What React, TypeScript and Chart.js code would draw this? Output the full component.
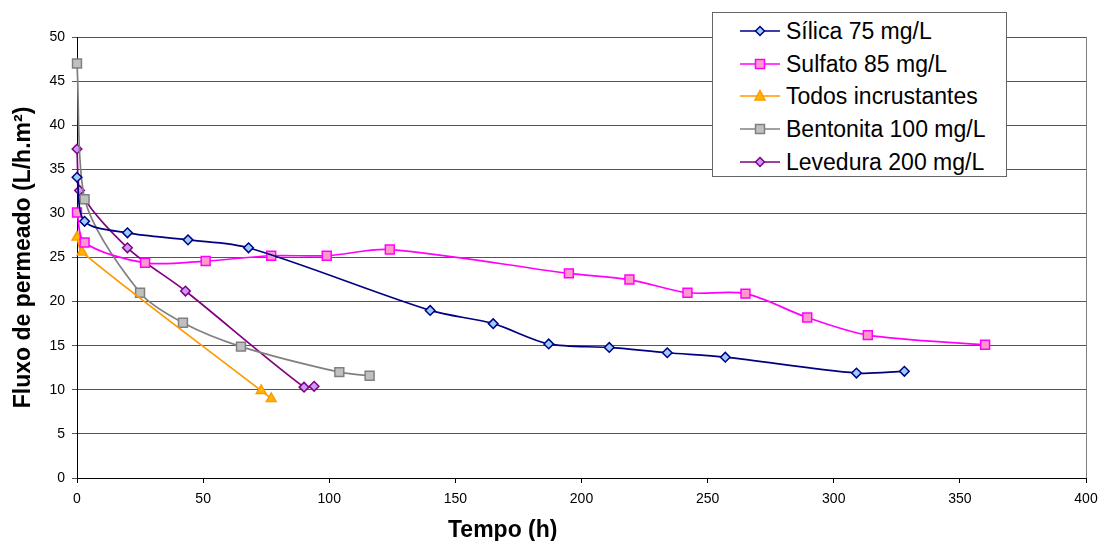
import React, { useEffect, useRef } from "react";
import { Chart, registerables } from "chart.js";

Chart.register(...registerables);

const silicaX = [0, 3, 20, 44, 68, 140, 165, 187, 211, 234, 257, 309, 328];
const silicaY = [34.1, 29.1, 27.8, 27.0, 26.1, 19.0, 17.5, 15.2, 14.8, 14.2, 13.7, 11.9, 12.1];

const sulfatoX = [0, 3, 27, 51, 77, 99, 124, 195, 219, 242, 265, 289.5, 313.5, 360];
const sulfatoY = [30.1, 26.7, 24.4, 24.6, 25.2, 25.2, 25.9, 23.2, 22.5, 21.0, 20.9, 18.2, 16.2, 15.1];

const todosX = [0, 2, 73, 77];
const todosY = [27.3, 25.6, 9.9, 9.0];

const bentonitaX = [0, 3, 25, 42, 65, 104, 116];
const bentonitaY = [47.0, 31.6, 21.0, 17.6, 14.9, 12.0, 11.6];

const leveduraX = [0, 1, 20, 43, 90, 94];
const levaduraY = [37.3, 32.6, 26.1, 21.2, 10.3, 10.4];

const seriesNames = [
  "Sílica 75 mg/L",
  "Sulfato 85 mg/L",
  "Todos incrustantes",
  "Bentonita 100 mg/L",
  "Levedura 200 mg/L",
];

const xTitle = "Tempo (h)";
const yTitle = "Fluxo de permeado (L/h.m²)";

const styles = [
  { line: "#000080", fill: "#99CCFF", marker: "rectRot", r: 4.8 },
  { line: "#FF00FF", fill: "#FF99CC", marker: "rect", r: 6.3 },
  { line: "#FF9900", fill: "#FFB800", marker: "triangle", r: 5.6 },
  { line: "#808080", fill: "#C0C0C0", marker: "rect", r: 6.3 },
  { line: "#800080", fill: "#CC99FF", marker: "rectRot", r: 4.8 },
];

const FONT = "Arial, 'Liberation Sans', sans-serif";

function zip(xs: number[], ys: number[]) {
  return xs.map((x, i) => ({ x, y: ys[i] }));
}

function MarkerIcon({ idx }: { idx: number }) {
  const s = styles[idx];
  let shape: React.ReactNode = null;
  const cx = 20, cy = 9;
  if (s.marker === "rectRot") {
    shape = <polygon points={`${cx},${cy - 4.5} ${cx + 4.5},${cy} ${cx},${cy + 4.5} ${cx - 4.5},${cy}`} fill={s.fill} stroke={s.line} strokeWidth={1.5} />;
  } else if (s.marker === "rect") {
    shape = <rect x={cx - 4.5} y={cy - 4.5} width={9} height={9} fill={s.fill} stroke={s.line} strokeWidth={1.5} />;
  } else {
    shape = <polygon points={`${cx},${cy - 5.5} ${cx + 5},${cy + 4} ${cx - 5},${cy + 4}`} fill={s.fill} stroke={s.line} strokeWidth={1.5} />;
  }
  return (
    <svg width={40} height={18} style={{ display: "block" }}>
      <line x1={0} y1={cy} x2={40} y2={cy} stroke={s.line} strokeWidth={1.6} />
      {shape}
    </svg>
  );
}

export default function App() {
  const ref = useRef<HTMLCanvasElement | null>(null);

  useEffect(() => {
    if (!ref.current) return;
    const dataPairs = [
      zip(silicaX, silicaY),
      zip(sulfatoX, sulfatoY),
      zip(todosX, todosY),
      zip(bentonitaX, bentonitaY),
      zip(leveduraX, levaduraY),
    ];
    const borderPlugin = {
      id: "plotBorder",
      afterDraw(chart: any) {
        const { ctx, chartArea } = chart;
        ctx.save();
        ctx.strokeStyle = "#808080";
        ctx.lineWidth = 1;
        ctx.beginPath();
        ctx.moveTo(Math.round(chartArea.right) + 0.5, chartArea.top);
        ctx.lineTo(Math.round(chartArea.right) + 0.5, chartArea.bottom);
        ctx.stroke();
        ctx.restore();
      },
    };
    const chart = new Chart(ref.current, {
      type: "line",
      data: {
        datasets: dataPairs.map((d, i) => ({
          label: seriesNames[i],
          data: d,
          borderColor: styles[i].line,
          backgroundColor: styles[i].fill,
          pointBackgroundColor: styles[i].fill,
          pointBorderColor: styles[i].line,
          pointBorderWidth: 1.5,
          pointStyle: styles[i].marker as any,
          pointRadius: styles[i].r,
          borderWidth: 1.7,
          tension: 0.3,
          clip: false as any,
          fill: false,
        })),
      },
      options: {
        animation: false,
        responsive: false,
        maintainAspectRatio: false,
        layout: { padding: { top: 37, right: 13, left: 0, bottom: 0 } },
        plugins: {
          legend: { display: false },
          tooltip: { enabled: false },
        },
        scales: {
          x: {
            type: "linear",
            min: 0,
            max: 400,
            ticks: {
              stepSize: 50,
              color: "#000",
              font: { family: FONT, size: 14 },
              padding: 8,
            },
            grid: { display: true, drawOnChartArea: false, drawTicks: true, tickLength: 5, color: "#000" },
            border: { display: true, color: "#000", width: 1 },
            title: { display: false, text: xTitle },
            afterFit(scale: any) {
              scale.height = 63;
              scale.paddingLeft = 0;
              scale.paddingRight = 0;
            },
          },
          y: {
            type: "linear",
            min: 0,
            max: 50,
            ticks: {
              stepSize: 5,
              color: "#000",
              font: { family: FONT, size: 14 },
              padding: 7,
            },
            grid: { color: "#555", tickLength: 5, drawTicks: true },
            border: { display: true, color: "#000", width: 1 },
            title: {
              display: true,
              text: yTitle,
              color: "#000",
              font: { family: FONT, size: 23, weight: "bold" },
              padding: { top: 10, bottom: 0 },
            },
            afterFit(scale: any) {
              scale.width = 77;
              scale.paddingTop = 0;
              scale.paddingBottom = 0;
            },
          },
        },
      },
      plugins: [borderPlugin],
    });
    return () => chart.destroy();
  }, []);

  return (
    <div style={{ position: "absolute", left: 0, top: 0, width: 1099, height: 541, background: "#fff", overflow: "hidden" }}>
      <canvas ref={ref} width={1099} height={541} style={{ display: "block" }} />
      <div
        style={{
          position: "absolute",
          left: 448,
          top: 518,
          fontFamily: FONT,
          fontSize: 23,
          fontWeight: "bold",
          lineHeight: "23px",
          color: "#000",
          whiteSpace: "nowrap",
        }}
      >
        {xTitle}
      </div>
      <div
        style={{
          position: "absolute",
          left: 712,
          top: 12,
          width: 293,
          height: 163,
          border: "1px solid #666",
          background: "#fff",
          fontFamily: FONT,
          fontSize: 23,
          color: "#000",
          boxSizing: "content-box",
        }}
      >
        {seriesNames.map((n, i) => (
          <div
            key={n}
            style={{
              position: "absolute",
              left: 27,
              top: 18 + i * 32.7 - 9,
              height: 18,
              display: "flex",
              alignItems: "center",
              whiteSpace: "nowrap",
            }}
          >
            <MarkerIcon idx={i} />
            <span style={{ marginLeft: 6, lineHeight: "18px" }}>{n}</span>
          </div>
        ))}
      </div>
    </div>
  );
}
